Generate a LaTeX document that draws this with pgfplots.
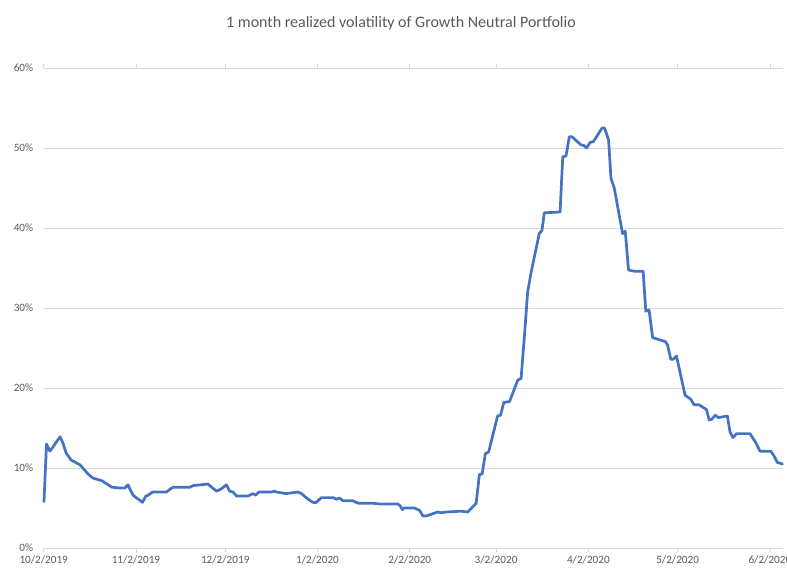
\documentclass[border=0pt]{standalone}
\usepackage{pgfplots}
\pgfplotsset{compat=1.18}
\usepackage{fontspec}
\setmainfont{Carlito}
\definecolor{lineblue}{RGB}{68,114,196}
\definecolor{txtgray}{RGB}{89,89,89}
\definecolor{gridgray}{RGB}{217,217,217}
\begin{document}
\begin{tikzpicture}[x=1pt,y=1pt]
\path[use as bounding box] (0,0) rectangle (787,571);
\node[text=txtgray, font=\fontsize{16}{19}\selectfont] at (401,548) {1 month realized volatility of Growth Neutral Portfolio};
\begin{axis}[
  at={(43.7pt,23pt)}, anchor=south west,
  scale only axis, width=739pt, height=480pt,
  xmin=0, xmax=248.3, ymin=0, ymax=60,
  axis line style={draw=none},
  ymajorgrids, grid style={gridgray, line width=0.75pt},
  ytick={0,10,20,30,40,50,60},
  yticklabels={0\%,10\%,20\%,30\%,40\%,50\%,60\%},
  xtick={0,31,61,92,123,152,183,213,244},
  xticklabels={10/2/2019,11/2/2019,12/2/2019,1/2/2020,2/2/2020,3/2/2020,4/2/2020,5/2/2020,6/2/2020},
  tick align=outside,
  xtick style={gridgray, line width=0.75pt},
  major tick length=4pt,
  ytick style={draw=none},
  ticklabel style={text=txtgray, font=\fontsize{11.2}{13}\selectfont},
  yticklabel style={xshift=-3pt},
  xticklabel style={yshift=-0.5pt},
  clip=false,
]
\addplot[lineblue, line width=2.7pt, line join=round, line cap=round] coordinates {
(0.1,5.8) (0.94,13.0) (2.1,12.1) (5.5,13.9) (6.5,13.1) (7.5,11.9) (9.2,11.0)
(12.2,10.4) (14.9,9.25) (16.5,8.75) (19.6,8.4) (22.9,7.6) (25.6,7.5) (27.3,7.5)
(28.3,7.9) (30.0,6.6) (33.2,5.7) (34.3,6.5) (35.1,6.6) (36.6,7.0) (41.3,7.0)
(42.6,7.4) (43.5,7.6) (49.1,7.6) (50.2,7.8) (55.2,8.0) (56.4,7.6) (58.1,7.1)
(59.7,7.4) (61.4,7.9) (62.5,7.1) (63.6,7.0) (64.8,6.5) (68.7,6.5) (70.3,6.8)
(71.2,6.6) (72.3,7.0) (76.5,7.0) (77.4,7.1) (78.2,7.0) (81.5,6.8) (85.4,7.0)
(86.6,6.8) (88.8,6.1) (90.5,5.7) (91.6,5.7) (93.3,6.3) (97.2,6.3) (98.3,6.1)
(99.4,6.25) (100.5,5.9) (103.9,5.9) (105.6,5.6) (110.6,5.6) (112.9,5.5) (119.0,5.5)
(119.8,5.25) (120.5,4.8) (121.2,5.0) (124.6,5.0) (126.3,4.7) (127.4,4.0) (128.5,4.0)
(132.4,4.5) (133.6,4.4) (135.2,4.5) (140.3,4.6) (142.5,4.5) (145.3,5.6) (146.4,9.2)
(147.3,9.25) (148.4,11.8) (149.5,12.0) (152.5,16.5) (153.5,16.6) (154.6,18.2) (156.5,18.3)
(159.3,21.0) (160.4,21.2) (161.5,26.4) (162.6,32.0) (163.8,34.5) (166.5,39.3) (167.4,39.7)
(168.2,41.9) (173.5,42.0) (174.4,48.9) (175.5,49.0) (176.6,51.4) (177.5,51.4) (180.5,50.4)
(181.6,50.3) (182.4,50.0) (183.6,50.7) (184.7,50.8) (187.6,52.5) (188.4,52.5) (188.9,52.0)
(189.8,51.0) (190.6,46.2) (191.7,45.0) (194.5,39.3) (195.4,39.6) (196.5,34.75) (198.4,34.6)
(201.4,34.6) (202.3,29.6) (203.4,29.75) (204.6,26.3) (206.3,26.1) (208.9,25.8) (209.6,25.4)
(210.7,23.6) (211.5,23.6) (212.6,24.0) (215.5,19.1) (217.4,18.6) (218.5,17.9) (220.2,17.9)
(222.7,17.3) (223.6,16.0) (224.5,16.1) (225.6,16.6) (226.7,16.3) (229.7,16.5) (230.6,14.5)
(231.6,13.8) (232.8,14.3) (237.3,14.3) (239.2,13.2) (240.7,12.1) (244.3,12.1) (245.4,11.5)
(246.5,10.7) (248.2,10.5)
};
\end{axis}
\end{tikzpicture}
\end{document}
